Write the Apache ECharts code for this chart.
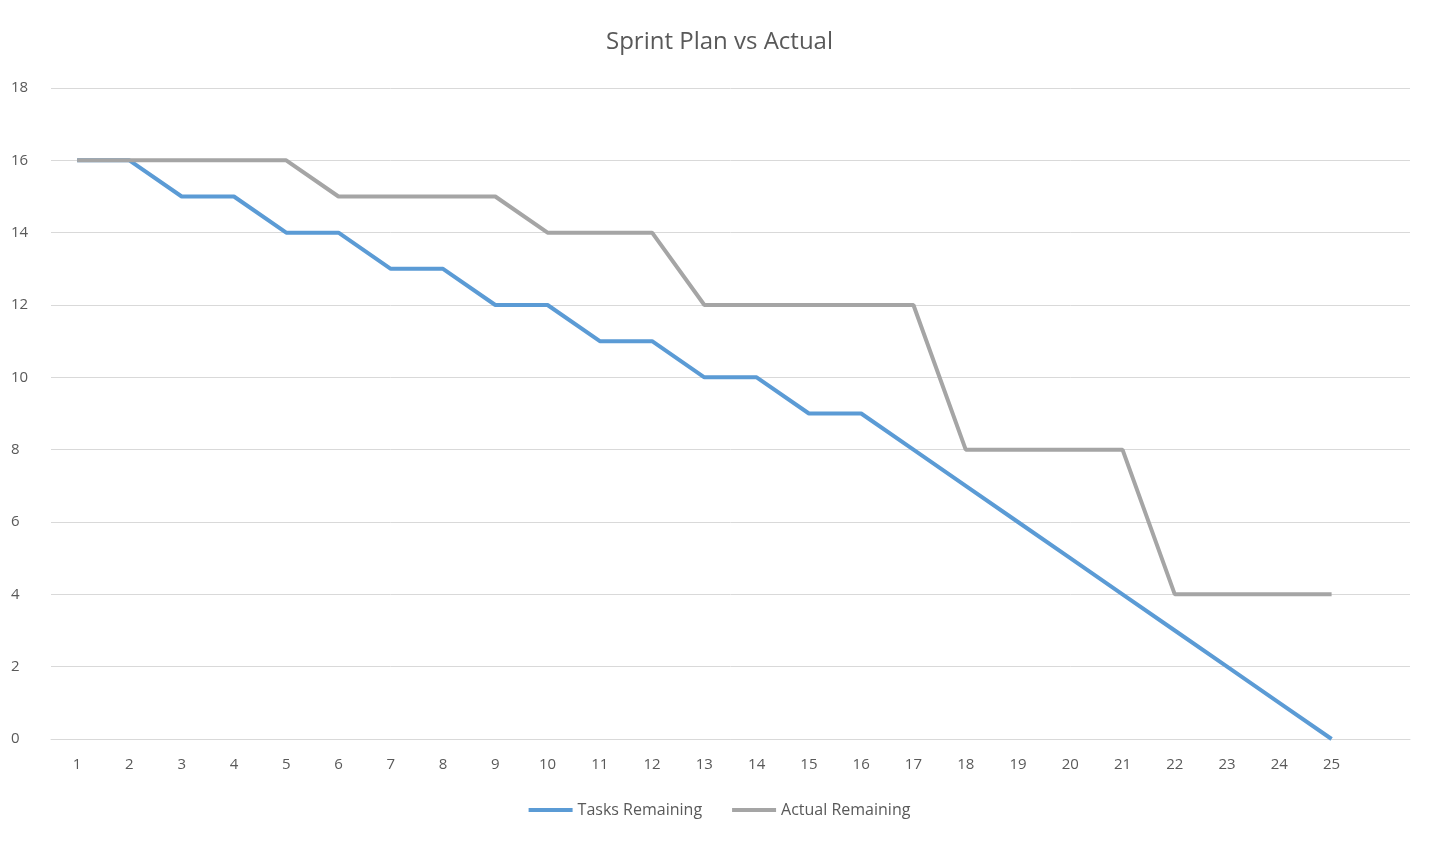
<!DOCTYPE html>
<html>
<head>
<meta charset="utf-8">
<script src="https://cdn.jsdelivr.net/npm/echarts@6/dist/echarts.min.js"></script>
<style>html,body{margin:0;padding:0;background:#fff}#chart{width:1439px;height:846px}</style>
</head>
<body>
<div id="chart"></div>
<script>
// days 1..25, plus an empty slot so the plot keeps Excel's right margin
const days = ['1','2','3','4','5','6','7','8','9','10','11','12','13','14','15','16','17','18','19','20','21','22','23','24','25',''];
const tasksRemaining = [16,16,15,15,14,14,13,13,12,12,11,11,10,10,9,9,8,7,6,5,4,3,2,1,0];
const actualRemaining = [16,16,16,16,16,15,15,15,15,14,14,14,12,12,12,12,12,8,8,8,8,4,4,4,4];

const chart = echarts.init(document.getElementById('chart'));
chart.setOption({
  animation: false,
  title: {
    text: 'Sprint Plan vs Actual', left: 'center', top: 25,
    textStyle: { fontFamily: 'Open Sans', fontSize: 24, fontWeight: 'normal', color: '#595959' }
  },
  legend: {
    bottom: 23, left: 'center', itemWidth: 44, itemGap: 30, icon: 'rect', itemHeight: 4,
    textStyle: { fontFamily: 'Open Sans', fontSize: 16, color: '#595959' },
    data: ['Tasks Remaining', 'Actual Remaining']
  },
  grid: { left: 51, right: 29, top: 88, bottom: 107 },
  xAxis: {
    type: 'category', data: days, boundaryGap: true,
    axisLine: { lineStyle: { color: '#d9d9d9' } },
    axisTick: { show: false },
    axisLabel: { fontFamily: 'Open Sans', fontSize: 15, color: '#595959', margin: 18 }
  },
  yAxis: {
    type: 'value', min: 0, max: 18, interval: 2,
    axisLine: { show: false }, axisTick: { show: false },
    splitLine: { lineStyle: { color: '#d9d9d9' } },
    axisLabel: { fontFamily: 'Open Sans', fontSize: 15, color: '#595959', margin: 18, align: 'left', padding: [0,0,0,-22] }
  },
  series: [
    { name: 'Tasks Remaining', type: 'line', data: tasksRemaining, showSymbol: false,
      lineStyle: { color: '#5b9bd5', width: 4 }, itemStyle: { color: '#5b9bd5' } },
    { name: 'Actual Remaining', type: 'line', data: actualRemaining, showSymbol: false,
      lineStyle: { color: '#a5a5a5', width: 4 }, itemStyle: { color: '#a5a5a5' } }
  ]
});
</script>
</body>
</html>
